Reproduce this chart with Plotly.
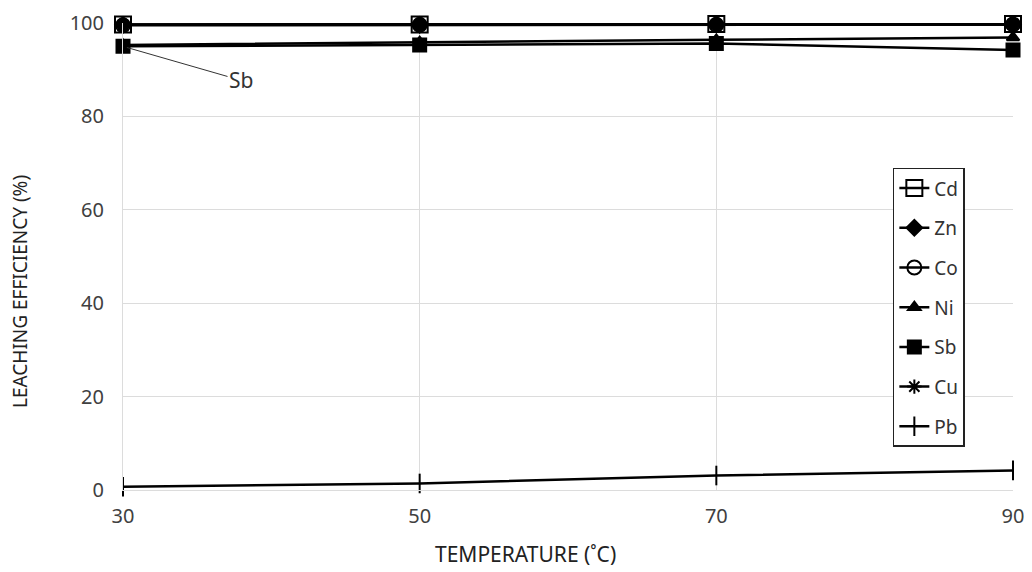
import plotly.graph_objects as go

temperature = [30, 50, 70, 90]
x_ticks = [30, 50, 70, 90]
y_ticks = [0, 20, 40, 60, 80, 100]

cd = [99.7, 99.7, 99.8, 99.8]
zn = [99.6, 99.6, 99.7, 99.7]
co = [99.5, 99.6, 99.6, 99.7]
ni = [95.3, 95.9, 96.4, 96.9]
sb = [95.0, 95.3, 95.6, 94.2]
cu = [99.6, 99.6, 99.7, 99.7]
pb = [0.7, 1.4, 3.1, 4.2]

series = [
    ("Cd", cd, "square-open", 16),
    ("Zn", zn, "diamond", 12),
    ("Co", co, "circle-open", 14),
    ("Ni", ni, "triangle-up", 11),
    ("Sb", sb, "square", 13),
    ("Cu", cu, "asterisk-open", 12),
    ("Pb", pb, "line-ns-open", 14),
]

fig = go.Figure()
for i, (name, vals, sym, size) in enumerate(series):
    fig.add_trace(go.Scatter(
        x=temperature, y=vals, name=name, mode="lines+markers",
        line=dict(color="black", width=2.5),
        marker=dict(symbol=sym, size=size, color="black",
                    line=dict(color="black", width=2)),
        legendgroup=name, cliponaxis=False,
    ))

fig.add_annotation(
    x=temperature[0], y=sb[0], xref="x", yref="y",
    text="Sb", showarrow=True, arrowhead=0, arrowwidth=1, arrowcolor="#333",
    ax=118, ay=34, font=dict(family="Noto Sans", size=21, color="#333"),
    xanchor="center", standoff=4,
)

# axis titles placed as annotations (offset as in the original)
fig.add_annotation(
    text="TEMPERATURE (˚C)", xref="paper", yref="paper", x=0.452, y=0,
    xanchor="center", yanchor="top", yshift=-48, showarrow=False,
    font=dict(family="Noto Sans", size=21, color="#222"),
)
fig.add_annotation(
    text="LEACHING EFFICIENCY (%)", xref="paper", yref="paper", x=0, y=0.424,
    xanchor="center", yanchor="middle", xshift=-103, textangle=-90, showarrow=False,
    font=dict(family="Noto Sans", size=19, color="#222"),
)

fig.update_layout(
    width=1024, height=564,
    margin=dict(l=115, r=19, t=15, b=82),
    paper_bgcolor="white", plot_bgcolor="white",
    font=dict(family="Noto Sans", color="#404040"),
    showlegend=True,
    legend=dict(
        x=0.865, y=0.69, xanchor="left", yanchor="top",
        bordercolor="#222", borderwidth=1.5, bgcolor="white",
        font=dict(size=19, color="#333"),
        tracegroupgap=12, traceorder="grouped",
    ),
    xaxis=dict(
        range=[30, 90], tickvals=x_ticks, ticktext=[str(t) for t in x_ticks],
        showgrid=True, gridcolor="#dcdcdc", gridwidth=1,
        showline=True, linecolor="#dcdcdc", zeroline=False,
        tickfont=dict(size=20, color="#404040"), ticks="",
        ticklabelstandoff=8, automargin=False,
    ),
    yaxis=dict(
        range=[0, 100], tickvals=y_ticks,
        showgrid=True, gridcolor="#dcdcdc", gridwidth=1,
        showline=True, linecolor="#dcdcdc", zeroline=False,
        tickfont=dict(size=20, color="#404040"), ticks="",
        ticklabelstandoff=14, automargin=False,
    ),
)

fig.write_html("out.html")
